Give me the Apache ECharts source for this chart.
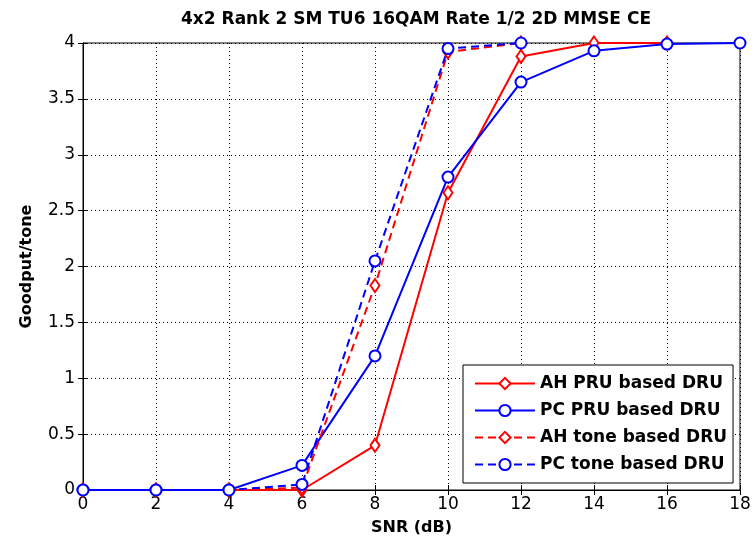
<!DOCTYPE html>
<html>
<head>
<meta charset="utf-8">
<script src="https://cdn.jsdelivr.net/npm/echarts@6/dist/echarts.min.js"></script>
<style>
  html, body { margin: 0; padding: 0; background: #fff; }
  #chart { width: 756px; height: 545px; }
</style>
</head>
<body>
<div id="chart"></div>
<script>
// values
const snr = [0, 2, 4, 6, 8, 10, 12, 14, 16, 18]
const ahPru = [0, 0, 0, 0, 0.40, 2.66, 3.88, 4.0, 4.0]
const pcPru = [0, 0, 0, 0.22, 1.20, 2.80, 3.65, 3.93, 3.99, 4.0]
const ahTone = [0, 0, 0, 0.02, 1.83, 3.92, 4.0]
const pcTone = [0, 0, 0, 0.05, 2.05, 3.95, 4.0]
const seriesNames = ['AH PRU based DRU', 'PC PRU based DRU', 'AH tone based DRU', 'PC tone based DRU']

const RED = '#ff0000'
const BLUE = '#0000ff'
const FONT = '"DejaVu Sans", sans-serif'

const pairs = (ys) => ys.map((y, i) => [snr[i], y])

const makeSeries = (name, ys, color, dashed, symbol) => ({
  name,
  type: 'line',
  data: pairs(ys),
  clip: false,
  symbol,
  symbolSize: symbol === 'emptyDiamond' ? [9, 13] : 11,
  showSymbol: true,
  lineStyle: { color, width: 2, type: dashed ? [8, 5] : 'solid' },
  itemStyle: { color, borderColor: color, borderWidth: 2 },
  emphasis: { disabled: true },
})

const chart = echarts.init(document.getElementById('chart'), null, { renderer: 'canvas' })

const axisLine = { show: true, lineStyle: { color: '#000', width: 1 } }
const tick = { show: true, inside: true, length: 5, lineStyle: { color: '#000' } }
const nameStyle = { fontFamily: FONT, fontSize: 16, fontWeight: 'bold', color: '#000' }

chart.setOption({
  animation: false,
  title: {
    text: '4x2 Rank 2 SM TU6 16QAM Rate 1/2 2D MMSE CE',
    left: 411,
    textAlign: 'center',
    top: 6,
    textStyle: { fontFamily: FONT, fontSize: 17, fontWeight: 'bold', color: '#000' },
  },
  grid: {
    left: 83,
    right: 16,
    top: 43,
    bottom: 55,
    show: true,
    borderColor: '#000',
    borderWidth: 1,
    backgroundColor: '#fff',
  },
  legend: {
    orient: 'vertical',
    left: 463,
    top: 365,
    padding: [10, 6, 10, 11],
    itemWidth: 60,
    itemHeight: 14,
    itemGap: 10,
    backgroundColor: '#fff',
    borderColor: '#000',
    borderWidth: 1,
    borderRadius: 0,
    data: seriesNames,
    textStyle: { fontFamily: FONT, fontSize: 17, fontWeight: 'bold', color: '#000' },
  },
  xAxis: [
    {
      type: 'value',
      min: 0,
      max: 18,
      interval: 2,
      name: 'SNR (dB)',
      nameLocation: 'middle',
      nameGap: 30,
      nameTextStyle: nameStyle,
      axisLine,
      axisTick: tick,
      axisLabel: { color: '#000', fontFamily: FONT, fontSize: 17, margin: 6 },
      splitLine: { show: true, lineStyle: { color: '#000', type: [1, 3], width: 1 } },
    },
    {
      type: 'value',
      position: 'top',
      min: 0,
      max: 18,
      interval: 2,
      axisLine,
      axisTick: tick,
      axisLabel: { show: false },
      splitLine: { show: false },
    },
  ],
  yAxis: [
    {
      type: 'value',
      min: 0,
      max: 4,
      interval: 0.5,
      name: 'Goodput/tone',
      nameLocation: 'middle',
      nameGap: 48,
      nameTextStyle: nameStyle,
      axisLine,
      axisTick: tick,
      axisLabel: { color: '#000', fontFamily: FONT, fontSize: 17, margin: 8 },
      splitLine: { show: true, lineStyle: { color: '#000', type: [1, 3], width: 1 } },
    },
    {
      type: 'value',
      position: 'right',
      min: 0,
      max: 4,
      interval: 0.5,
      axisLine,
      axisTick: tick,
      axisLabel: { show: false },
      splitLine: { show: false },
    },
  ],
  series: [
    makeSeries(seriesNames[0], ahPru, RED, false, 'emptyDiamond'),
    makeSeries(seriesNames[1], pcPru, BLUE, false, 'emptyCircle'),
    makeSeries(seriesNames[2], ahTone, RED, true, 'emptyDiamond'),
    makeSeries(seriesNames[3], pcTone, BLUE, true, 'emptyCircle'),
  ],
})
</script>
</body>
</html>
